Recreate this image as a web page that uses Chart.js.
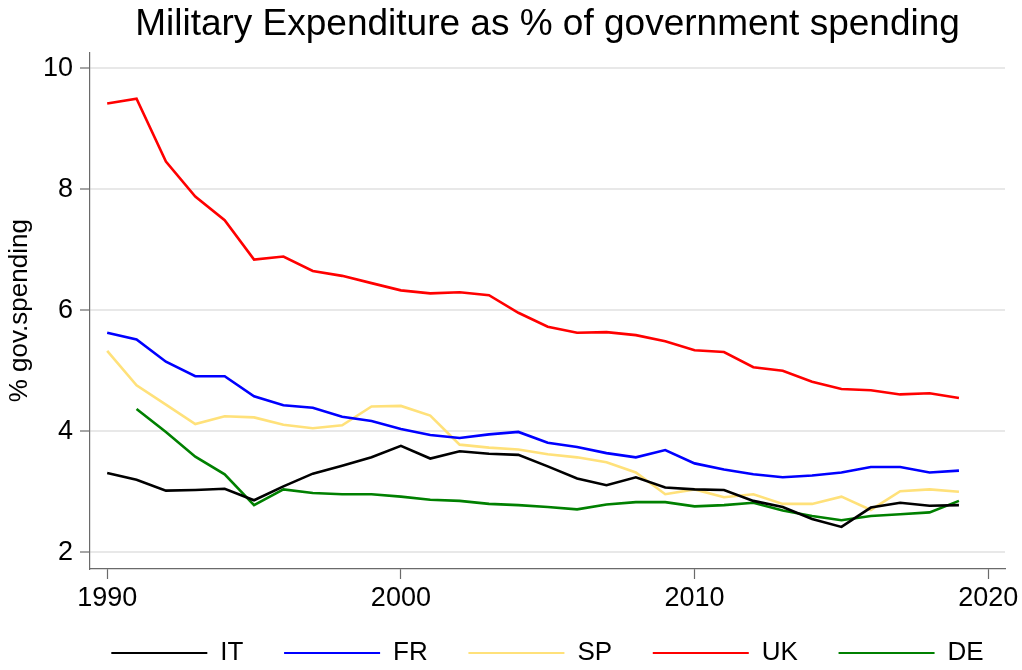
<!DOCTYPE html>
<html lang="en">
<head>
<meta charset="UTF-8">
<title>Military Expenditure as % of government spending</title>
<script src="https://cdn.jsdelivr.net/npm/chart.js"></script>
<style>
  html, body { margin: 0; padding: 0; background: #fff; }
</style>
</head>
<body>
<canvas id="myChart" width="1022" height="670"></canvas>
<script>
// data
const years = [1990, 1991, 1992, 1993, 1994, 1995, 1996, 1997, 1998, 1999,
               2000, 2001, 2002, 2003, 2004, 2005, 2006, 2007, 2008, 2009,
               2010, 2011, 2012, 2013, 2014, 2015, 2016, 2017, 2018, 2019];
const countries = ['IT', 'FR', 'SP', 'UK', 'DE'];
const itValues = [3.31, 3.20, 3.02, 3.03, 3.05, 2.86, 3.09, 3.30, 3.43, 3.57,
                  3.76, 3.55, 3.67, 3.63, 3.61, 3.42, 3.22, 3.11, 3.24, 3.07,
                  3.04, 3.03, 2.85, 2.75, 2.55, 2.42, 2.74, 2.82, 2.77, 2.78];
const frValues = [5.63, 5.52, 5.15, 4.91, 4.91, 4.58, 4.43, 4.39, 4.24, 4.17,
                  4.04, 3.94, 3.89, 3.95, 3.99, 3.81, 3.74, 3.64, 3.57, 3.69,
                  3.47, 3.37, 3.29, 3.24, 3.27, 3.32, 3.41, 3.41, 3.32, 3.35];
const spValues = [5.33, 4.76, 4.44, 4.12, 4.25, 4.23, 4.11, 4.05, 4.10, 4.41,
                  4.42, 4.26, 3.78, 3.73, 3.70, 3.62, 3.57, 3.49, 3.32, 2.96,
                  3.04, 2.91, 2.96, 2.80, 2.80, 2.92, 2.70, 3.01, 3.04, 3.00];
const ukValues = [9.42, 9.50, 8.46, 7.88, 7.49, 6.84, 6.89, 6.65, 6.57, 6.45,
                  6.33, 6.28, 6.30, 6.25, 5.96, 5.73, 5.63, 5.64, 5.59, 5.49,
                  5.34, 5.31, 5.06, 5.00, 4.82, 4.70, 4.68, 4.61, 4.63, 4.55];
const deValues = [null, 4.37, 3.99, 3.58, 3.29, 2.78, 3.04, 2.98, 2.96, 2.96,
                  2.92, 2.87, 2.85, 2.80, 2.78, 2.75, 2.71, 2.79, 2.83, 2.83,
                  2.76, 2.78, 2.82, 2.69, 2.60, 2.53, 2.60, 2.63, 2.66, 2.85];
const xTicks = [1990, 2000, 2010, 2020];
const yTicks = [2, 4, 6, 8, 10];

const seriesValues = [itValues, frValues, spValues, ukValues, deValues];
const colors = ['#000000', '#0000ff', '#ffe17a', '#ff0000', '#008000'];

Chart.defaults.font.family = '"Liberation Sans", Arial, Helvetica, sans-serif';
Chart.defaults.color = '#000';

const axisGray = '#6a6a6a';

const ctx = document.getElementById('myChart').getContext('2d');
const myChart = new Chart(ctx, {
    type: 'line',
    data: {
        datasets: countries.map((name, i) => ({
            label: name,
            data: years.map((yr, j) => ({ x: yr, y: seriesValues[i][j] })),
            borderColor: colors[i],
            backgroundColor: colors[i],
            borderWidth: 2.6,
            pointRadius: 0,
            tension: 0,
            spanGaps: false
        }))
    },
    options: {
        responsive: false,
        animation: false,
        layout: { padding: { left: 0, right: 17, top: 0, bottom: -6 } },
        plugins: {
            title: {
                display: true,
                text: 'Military Expenditure as % of government spending',
                fullSize: false,
                color: '#000',
                font: { size: 37, weight: 'normal' },
                padding: { top: 3, bottom: 5 }
            },
            legend: {
                position: 'bottom',
                fullSize: false,
                labels: {
                    boxWidth: 96,
                    boxHeight: 2,
                    padding: 19,
                    color: '#000',
                    font: { size: 26 },
                    // spaces after the text give the wide gaps between entries
                    generateLabels: chart => Chart.defaults.plugins.legend.labels.generateLabels(chart)
                        .map((l, i, arr) => ({
                            ...l,
                            text: i < arr.length - 1 ? l.text + '   ' : l.text,
                            lineWidth: 0,
                            fillStyle: l.strokeStyle
                        }))
                }
            },
            tooltip: { enabled: false }
        },
        scales: {
            x: {
                type: 'linear',
                min: 1989.415,
                max: 2020.568,
                afterBuildTicks: s => { s.ticks = xTicks.map(v => ({ value: v })); },
                afterFit: s => { s.height = 52; },
                grid: {
                    drawOnChartArea: false,
                    drawTicks: true,
                    tickLength: 10,
                    tickColor: axisGray,
                    tickWidth: 1.2
                },
                border: { display: true, color: axisGray, width: 1.2 },
                ticks: {
                    color: '#000',
                    font: { size: 27 },
                    padding: 3,
                    maxRotation: 0,
                    callback: v => String(v)
                }
            },
            y: {
                min: 1.724,
                max: 10.264,
                afterBuildTicks: s => { s.ticks = yTicks.map(v => ({ value: v })); },
                afterFit: s => { s.width = 90; },
                grid: {
                    color: '#e8e8e8',
                    lineWidth: 2,
                    drawTicks: true,
                    tickLength: 10,
                    tickColor: axisGray,
                    tickWidth: 1.2
                },
                border: { display: true, color: axisGray, width: 1.2 },
                ticks: {
                    color: '#000',
                    font: { size: 27 },
                    padding: 7
                },
                title: {
                    display: true,
                    text: '% gov.spending',
                    color: '#000',
                    font: { size: 26 },
                    padding: { top: 4, bottom: 0 }
                }
            }
        }
    }
});
</script>
</body>
</html>
